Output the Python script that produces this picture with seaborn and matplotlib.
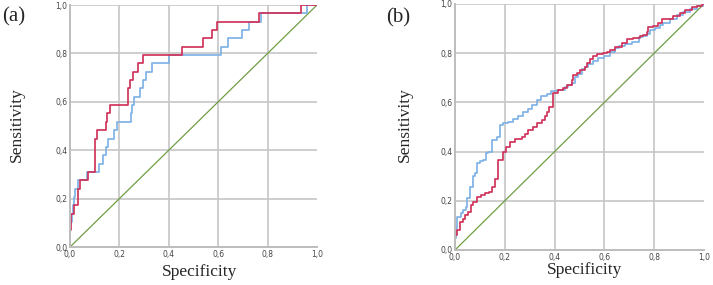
import numpy as np
import pandas as pd
import seaborn as sns
import matplotlib.pyplot as plt

# ROC points (x = 1 - specificity step, y = sensitivity after the step)
a_red_x = [0, 0, 0.004, 0.016, 0.031, 0.042, 0.072, 0.102, 0.108, 0.144, 0.151, 0.163,
           0.233, 0.243, 0.256, 0.277, 0.294, 0.452, 0.537, 0.575, 0.595, 0.765, 0.934, 1.0]
a_red_y = [0, 0.069, 0.138, 0.172, 0.241, 0.276, 0.310, 0.448, 0.483, 0.517, 0.552, 0.586,
           0.655, 0.690, 0.724, 0.759, 0.793, 0.828, 0.862, 0.897, 0.931, 0.966, 1.0, 1.0]
a_blue_x = [0, 0, 0.008, 0.012, 0.016, 0.022, 0.033, 0.067, 0.117, 0.134, 0.144, 0.155,
            0.178, 0.191, 0.247, 0.253, 0.258, 0.285, 0.296, 0.308, 0.331, 0.400, 0.610,
            0.640, 0.698, 0.725, 0.773, 0.958, 1.0]
a_blue_y = [0, 0.103, 0.138, 0.172, 0.207, 0.241, 0.276, 0.310, 0.345, 0.379, 0.414, 0.448,
            0.483, 0.517, 0.552, 0.586, 0.621, 0.655, 0.690, 0.724, 0.759, 0.793, 0.828,
            0.862, 0.897, 0.931, 0.966, 1.0, 1.0]

b_red_x = [0, 0, 0.009, 0.02, 0.031, 0.04, 0.054, 0.063, 0.074, 0.087, 0.103, 0.12, 0.138,
           0.15, 0.16, 0.171, 0.194, 0.205, 0.22, 0.24, 0.268, 0.281, 0.295, 0.315, 0.33,
           0.348, 0.36, 0.368, 0.379, 0.395, 0.415, 0.435, 0.449, 0.469, 0.475, 0.49, 0.502,
           0.522, 0.529, 0.542, 0.555, 0.569, 0.596, 0.609, 0.622, 0.643, 0.669, 0.689,
           0.716, 0.743, 0.757, 0.77, 0.776, 0.797, 0.817, 0.831, 0.851, 0.877, 0.904,
           0.924, 0.95, 0.97, 0.99, 1.0]
b_red_y = [0, 0.061, 0.081, 0.115, 0.128, 0.142, 0.155, 0.183, 0.196, 0.214, 0.223, 0.230,
           0.237, 0.257, 0.29, 0.366, 0.40, 0.42, 0.44, 0.45, 0.46, 0.47, 0.488, 0.50, 0.515,
           0.528, 0.545, 0.562, 0.583, 0.637, 0.65, 0.657, 0.67, 0.69, 0.711, 0.72, 0.732,
           0.745, 0.759, 0.775, 0.789, 0.797, 0.80, 0.806, 0.813, 0.827, 0.84, 0.856, 0.862,
           0.87, 0.875, 0.887, 0.905, 0.91, 0.921, 0.937, 0.94, 0.951, 0.962, 0.976, 0.986,
           0.992, 1.0, 1.0]
b_blue_x = [0, 0, 0.004, 0.008, 0.024, 0.033, 0.043, 0.05, 0.06, 0.074, 0.08, 0.09, 0.1,
            0.114, 0.124, 0.134, 0.147, 0.167, 0.181, 0.194, 0.214, 0.234, 0.254, 0.274,
            0.294, 0.308, 0.328, 0.345, 0.368, 0.385, 0.41, 0.44, 0.455, 0.469, 0.482, 0.495,
            0.509, 0.522, 0.536, 0.556, 0.576, 0.6, 0.622, 0.643, 0.66, 0.682, 0.71, 0.737,
            0.757, 0.77, 0.784, 0.804, 0.824, 0.837, 0.864, 0.89, 0.917, 0.944, 0.97, 0.995,
            1.0]
b_blue_y = [0, 0.048, 0.09, 0.135, 0.15, 0.163, 0.176, 0.21, 0.258, 0.30, 0.312, 0.353, 0.36,
            0.366, 0.394, 0.40, 0.448, 0.461, 0.509, 0.516, 0.522, 0.532, 0.543, 0.56, 0.575,
            0.59, 0.61, 0.625, 0.635, 0.645, 0.65, 0.662, 0.67, 0.68, 0.705, 0.715, 0.735,
            0.745, 0.756, 0.77, 0.779, 0.79, 0.805, 0.82, 0.828, 0.837, 0.845, 0.864, 0.87,
            0.88, 0.894, 0.903, 0.915, 0.923, 0.94, 0.955, 0.969, 0.98, 0.992, 1.0, 1.0]

ref_line = [0, 1]
ticks = [0, 0.2, 0.4, 0.6, 0.8, 1.0]
tick_labels = ['0,0', '0,2', '0,4', '0,6', '0,8', '1,0']

red = '#d0335b'
blue = '#7fb2e5'
green = '#6f9e45'

sns.set_style('white')
serif = 'Liberation Serif'

fig = plt.figure(figsize=(7.13, 2.85), dpi=100)
ax_a = fig.add_axes([70 / 713, 38 / 285, 247 / 713, 242 / 285])
ax_b = fig.add_axes([455 / 713, 35 / 285, 249 / 713, 246 / 285])


def draw_panel(ax, rx, ry, bx, by):
    for v in ticks[1:]:
        ax.axhline(v, color='#c6c6c6', lw=1.2, zorder=0)
    for v in ticks[1:-1]:
        ax.axvline(v, color='#c6c6c6', lw=1.2, zorder=0)
    sns.lineplot(x=ref_line, y=ref_line, ax=ax, color=green, lw=0.9)
    sns.lineplot(x=bx, y=by, ax=ax, color=blue, lw=1.25, drawstyle='steps-post',
                 sort=False, estimator=None)
    sns.lineplot(x=rx, y=ry, ax=ax, color=red, lw=1.25, drawstyle='steps-post',
                 sort=False, estimator=None)
    ax.set_xlim(0, 1)
    ax.set_ylim(0, 1)
    ax.set_xticks(ticks)
    ax.set_yticks(ticks)
    ax.set_xticklabels(tick_labels)
    ax.set_yticklabels(tick_labels)
    ax.tick_params(labelsize=5.5, colors='#444444', length=0, pad=2)
    for s in ['top', 'right']:
        ax.spines[s].set_visible(False)
    for s in ['left', 'bottom']:
        ax.spines[s].set_color('#bdbdbd')
        ax.spines[s].set_linewidth(1.4)
    ax.set_xlabel('')
    ax.set_ylabel('')


draw_panel(ax_a, a_red_x, a_red_y, a_blue_x, a_blue_y)
draw_panel(ax_b, b_red_x, b_red_y, b_blue_x, b_blue_y)

fig.text(2 / 713, 1 - 17 / 285, '(a)', family=serif, fontsize=15, va='center', ha='left')
fig.text(386 / 713, 1 - 18 / 285, '(b)', family=serif, fontsize=15, va='center', ha='left')
fig.text(17 / 713, 1 - 125 / 285, 'Sensitivity', family=serif, fontsize=12.5,
         rotation=90, va='center', ha='center')
fig.text(405 / 713, 1 - 125 / 285, 'Sensitivity', family=serif, fontsize=12.5,
         rotation=90, va='center', ha='center')
fig.text(200 / 713, 1 - 272 / 285, 'Specificity', family=serif, fontsize=12.5,
         va='center', ha='center')
fig.text(585 / 713, 1 - 270 / 285, 'Specificity', family=serif, fontsize=12.5,
         va='center', ha='center')

fig.savefig('out.png', dpi=100)
